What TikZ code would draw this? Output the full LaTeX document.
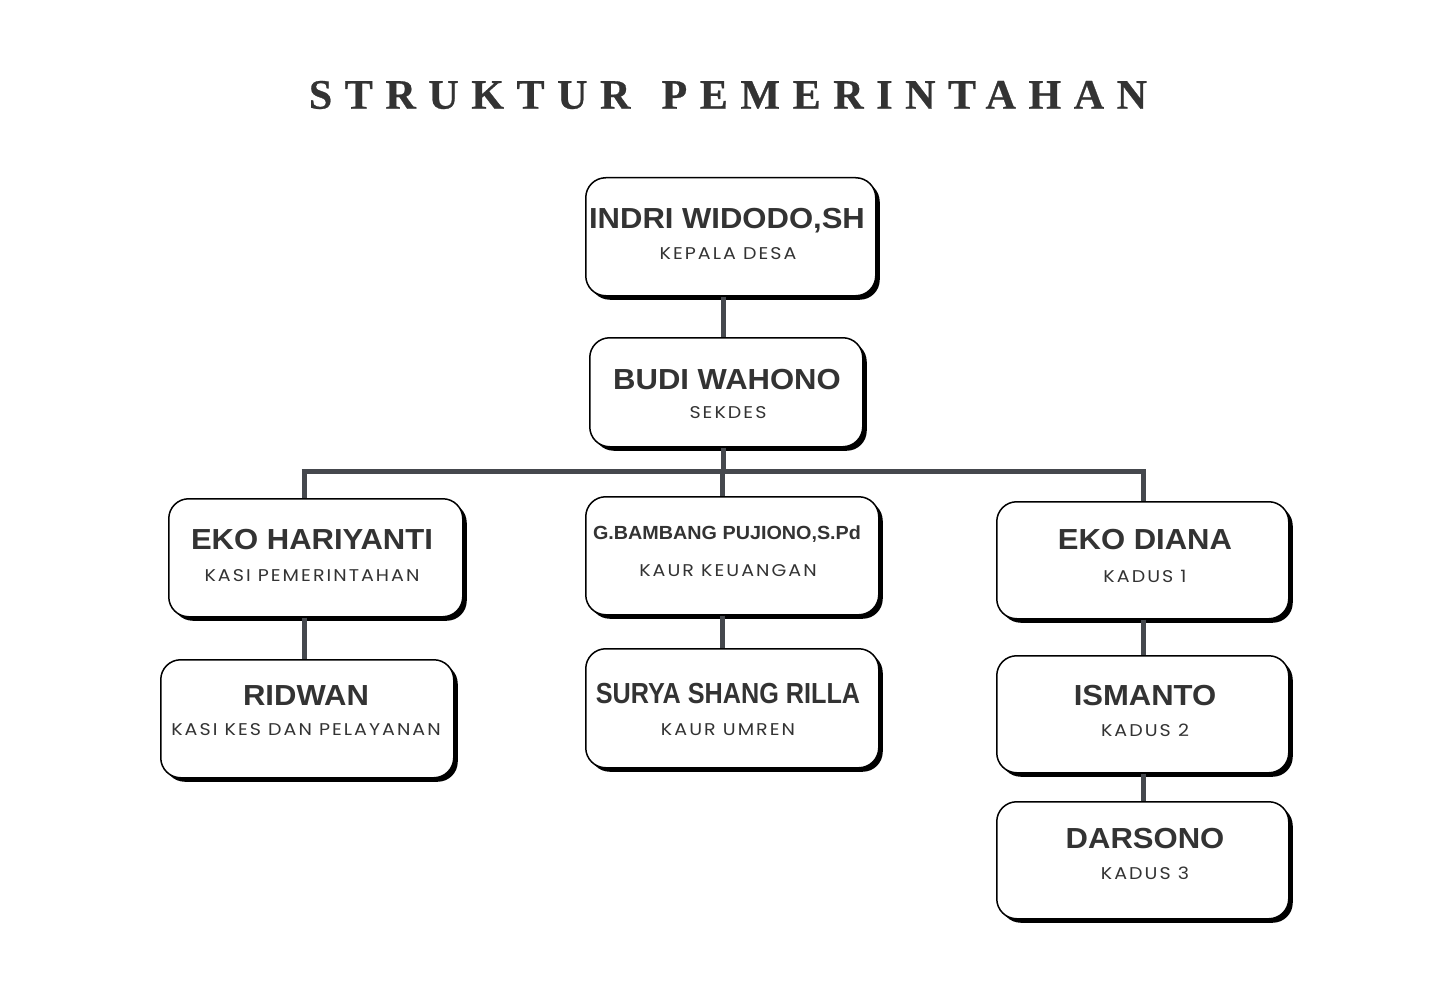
\documentclass[tikz,border=0pt]{standalone}
\usepackage{fontspec}
\usetikzlibrary{shadows}
\setmainfont{Liberation Serif}
\newfontfamily\titlefont[LetterSpace=30, BoldFeatures={FakeBold=0.6}]{Liberation Serif}
\newfontfamily\namefont[FakeStretch=1.07]{Liberation Sans}
\newfontfamily\namefonts[FakeStretch=1.04]{Liberation Sans}
\newfontfamily\namefontn[FakeStretch=0.87]{Liberation Sans}
\newfontfamily\subfont[LetterSpace=12, FakeStretch=1.12]{Poppins}
\definecolor{txt}{HTML}{333333}
\definecolor{conn}{HTML}{45484D}
\begin{document}
\begin{tikzpicture}[x=1pt,y=-1pt,
  card/.style={draw=black, line width=1.5pt, fill=white, rounded corners=20pt,
    inner sep=0pt, anchor=north west,
    drop shadow={shadow xshift=4pt, shadow yshift=-4pt, fill=black, opacity=1}},
  nm/.style={font=\namefont\bfseries\fontsize{29}{32}\selectfont, text=txt, inner sep=0pt},
  nmn/.style={font=\namefontn\bfseries\fontsize{29}{32}\selectfont, text=txt, inner sep=0pt},
  nmsmall/.style={font=\namefonts\bfseries\fontsize{19}{22}\selectfont, text=txt, inner sep=0pt},
  sub/.style={font=\subfont\fontsize{17}{20}\selectfont, text=txt, inner sep=0pt},
  link/.style={draw=conn, line width=5pt}]
\useasboundingbox (0,0) rectangle (1450,1000);
\fill[white] (0,0) rectangle (1450,1000);
\node[font=\titlefont\bfseries\fontsize{42}{46}\selectfont, text=txt, inner sep=0pt] (title) at (728,95) {STRUKTUR\hspace{8pt} PEMERINTAHAN};

\coordinate (jc) at (723,471);
\coordinate (jl) at (304,471);
\coordinate (jr) at (1143,471);

% boxes
\node[card, minimum width=290pt, minimum height=118pt] (kades) at (585,177) {};
\node[card, minimum width=273pt, minimum height=109pt] (sekdes) at (589,337) {};
\node[card, minimum width=294pt, minimum height=118pt] (kasip) at (168,498) {};
\node[card, minimum width=293pt, minimum height=118pt] (kaurk) at (585,496) {};
\node[card, minimum width=292pt, minimum height=117pt] (kadus1) at (996,501) {};
\node[card, minimum width=293pt, minimum height=118pt] (kasik) at (160,659) {};
\node[card, minimum width=293pt, minimum height=119pt] (kauru) at (585,648) {};
\node[card, minimum width=292pt, minimum height=117pt] (kadus2) at (996,655) {};
\node[card, minimum width=292pt, minimum height=117pt] (kadus3) at (996,801) {};

% connectors
\draw[link] (kades.south -| jc) -- (sekdes.north -| jc);
\draw[link] (sekdes.south -| jc) -- (jc);
\draw[link] ([xshift=-2.5pt]jl) -- ([xshift=2.5pt]jr);
\draw[link] (jl) -- (jl |- kasip.north);
\draw[link] ([xshift=-1pt]jc) -- ([xshift=-1pt]jc |- kaurk.north);
\draw[link] (jr) -- (jr |- kadus1.north);
\draw[link] (kasip.south -| jl) -- (kasik.north -| jl);
\draw[link] ([xshift=-1pt]kaurk.south -| jc) -- ([xshift=-1pt]kauru.north -| jc);
\draw[link] (kadus1.south -| jr) -- (kadus2.north -| jr);
\draw[link] (kadus2.south -| jr) -- (kadus3.north -| jr);

% texts
\node[nm] (n1) at (727,221) {INDRI WIDODO,SH};
\node[sub] (s1) at (728,254) {KEPALA DESA};
\node[nm] (n2) at (727,380) {BUDI WAHONO};
\node[sub] (s2) at (728,413) {SEKDES};
\node[nm] (n3) at (312,540) {EKO HARIYANTI};
\node[sub] (s3) at (312,576) {KASI PEMERINTAHAN};
\node[nmsmall] (n4) at (727,534) {G.BAMBANG PUJIONO,S.Pd};
\node[sub] (s4) at (728,571) {KAUR KEUANGAN};
\node[nm] (n5) at (1145,540) {EKO DIANA};
\node[sub] (s5) at (1145,576) {KADUS 1};
\node[nm] (n6) at (306,696) {RIDWAN};
\node[sub] (s6) at (306,730) {KASI KES DAN PELAYANAN};
\node[nmn] (n7) at (728,694) {SURYA SHANG RILLA};
\node[sub] (s7) at (728,730) {KAUR UMREN};
\node[nm] (n8) at (1145,696) {ISMANTO};
\node[sub] (s8) at (1145,730) {KADUS 2};
\node[nm] (n9) at (1145,839) {DARSONO};
\node[sub] (s9) at (1145,873) {KADUS 3};
\end{tikzpicture}
\end{document}
